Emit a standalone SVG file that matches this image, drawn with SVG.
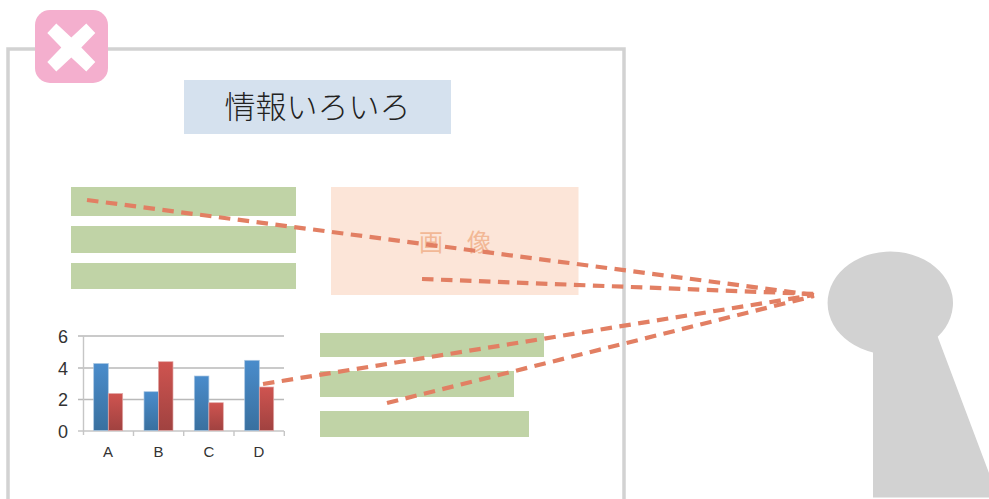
<svg xmlns="http://www.w3.org/2000/svg" width="989" height="499" viewBox="0 0 989 499">
<defs>
<linearGradient id="gb" x1="0" y1="0" x2="0" y2="1"><stop offset="0" stop-color="#4a8ccb"/><stop offset="1" stop-color="#39709f"/></linearGradient>
<linearGradient id="gr" x1="0" y1="0" x2="0" y2="1"><stop offset="0" stop-color="#cf5450"/><stop offset="1" stop-color="#a04240"/></linearGradient>
</defs>
<style>
.bar{fill:#c0d3a6}
.grid{stroke:#b9b9b9;stroke-width:1.4;fill:none}
.axis{stroke:#c6c6c6;stroke-width:1.4;fill:none}
.b{fill:url(#gb);stroke:#a9c6e2;stroke-width:.7}
.r{fill:url(#gr);stroke:#e2aaa8;stroke-width:.7}
.t{font-family:"Liberation Sans",Arial,sans-serif;fill:#333}
.jp{font-family:"Noto Sans CJK JP","Noto Sans",sans-serif}
.dash{stroke:#e27f63;stroke-width:4.2;stroke-dasharray:11.5 7.5;fill:none}
</style>
<rect width="989" height="499" fill="#fff"/>
<g id="frame"><path d="M8 499V49H624V499" fill="none" stroke="#d2d2d2" stroke-width="3.500"/></g>
<g id="badge">
<rect x="35" y="10" width="73" height="73" rx="15" fill="#f4afce"/>
<path d="M71.300 37.500L86.300 23.500 95.300 33 81.300 47.500 95.300 62 86.300 71.500 71.300 57.500 56.300 71.500 47.300 62 61.300 47.500 47.300 33 56.300 23.500Z" fill="#fff"/>
</g>
<g id="title">
<rect x="184" y="80" width="267" height="54" fill="#d5e1ee"/>
<text class="jp" x="317.500" y="118" font-size="31" font-weight="300" fill="#222" text-anchor="middle">情報いろいろ</text>
</g>
<g id="text-top">
<rect class="bar" x="71" y="187" width="225" height="29"/>
<rect class="bar" x="71" y="226" width="225" height="27"/>
<rect class="bar" x="71" y="263" width="225" height="26"/>
</g>
<g id="image">
<rect x="331" y="187" width="247.500" height="108" fill="#fce5d8"/>
<text class="jp" x="431" y="251" font-size="24" fill="#f2b896" text-anchor="middle">画</text>
<text class="jp" x="479" y="251" font-size="24" fill="#f2b896" text-anchor="middle">像</text>
</g>
<g id="chart">
<path class="grid" d="M78 336H284M78 368H284M78 399.500H284"/>
<path class="axis" d="M83.500 336V435M78 431H284M133.500 431V436M183.700 431V436M234 431V436M284.300 431V436"/>
<rect class="b" x="93.700" y="363.500" width="14.600" height="67"/>
<rect class="r" x="108.300" y="393.500" width="14.400" height="37"/>
<rect class="b" x="144" y="391.700" width="14.400" height="38.800"/>
<rect class="r" x="158.400" y="361.700" width="14.600" height="68.800"/>
<rect class="b" x="194.300" y="376" width="14.600" height="54.500"/>
<rect class="r" x="208.900" y="402.700" width="14.400" height="27.800"/>
<rect class="b" x="244.700" y="360.300" width="14.600" height="70.200"/>
<rect class="r" x="259.300" y="387" width="14.400" height="43.500"/>
<g class="t" font-size="18" text-anchor="middle">
<text x="63" y="343">6</text><text x="63" y="374.500">4</text><text x="63" y="406">2</text><text x="63" y="437.500">0</text>
</g>
<g class="t" font-size="15" text-anchor="middle">
<text x="108" y="457">A</text><text x="158.500" y="457">B</text><text x="209" y="457">C</text><text x="259" y="457">D</text>
</g>
</g>
<g id="text-bottom">
<rect class="bar" x="320" y="333" width="224" height="24"/>
<rect class="bar" x="320" y="371" width="194" height="26"/>
<rect class="bar" x="320" y="411" width="209" height="26"/>
</g>
<g id="viewer">
<path d="M873 497.500V352.500A62.700 51.500 0 1 1 937.700 336.700L989 473V497.500Z" fill="#d2d2d2"/>
</g>
<g id="connectors">
<path class="dash" d="M87 200L814 295"/>
<path class="dash" d="M422 279L814 294"/>
<path class="dash" d="M263 384L814 295"/>
<path class="dash" d="M387 403L814 296"/>
</g>
</svg>
